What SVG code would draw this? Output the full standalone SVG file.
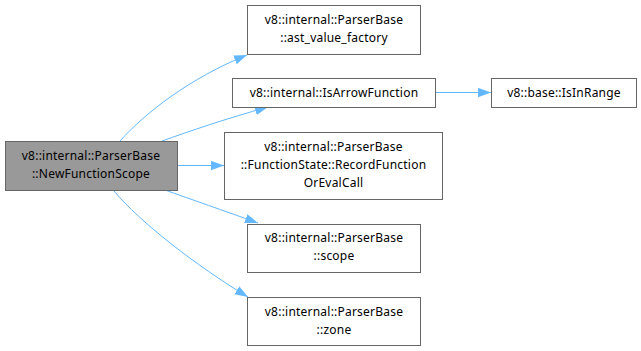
<svg xmlns="http://www.w3.org/2000/svg" width="641" height="351" viewBox="0 0 641 351">
  <style>
    .node rect { fill: #ffffff; stroke: #666666; stroke-width: 1; }
    .node.root rect { fill: #999999; }
    .node text { font-family: "Noto Sans", "Open Sans", sans-serif; font-size: 12px; letter-spacing: 0.22px; fill: #000000; text-anchor: middle; }
    .edges path { fill: none; stroke: #63b8ff; stroke-width: 1; marker-end: url(#arrow); }
  </style>
  <defs>
    <marker id="arrow" markerUnits="userSpaceOnUse" markerWidth="14" markerHeight="10" refX="13" refY="4.7" orient="auto">
      <path d="M0,0 L13,4.7 L0,9.4 z" fill="#63b8ff"/>
    </marker>
  </defs>
  <rect width="641" height="351" fill="#ffffff"/>

  <g class="edges">
    <path d="M120,141 C145,113 190,78 247,55"/>
    <path d="M162,141 C190,131 225,119 268,107"/>
    <path d="M177,165.5 L224,165.5"/>
    <path d="M165,190 C190,199 225,211 258,223"/>
    <path d="M114,191 C140,222 195,265 248,297"/>
    <path d="M435,92.5 L491,92.5"/>
  </g>

  <g id="node-newfunctionscope" class="node root">
    <rect x="5.5" y="141.5" width="172" height="49"/>
    <text x="91" y="160">v8::internal::ParserBase</text>
    <text x="91" y="178">::NewFunctionScope</text>
  </g>
  <g id="node-ast-value-factory" class="node">
    <rect x="247.5" y="5.5" width="173" height="49"/>
    <text x="334" y="24">v8::internal::ParserBase</text>
    <text x="334" y="42">::ast_value_factory</text>
  </g>
  <g id="node-isarrowfunction" class="node">
    <rect x="232.5" y="78.5" width="203" height="29"/>
    <text x="334" y="97">v8::internal::IsArrowFunction</text>
  </g>
  <g id="node-recordfunctionorevalcall" class="node">
    <rect x="224.5" y="132.5" width="218" height="67"/>
    <text x="333.5" y="151">v8::internal::ParserBase</text>
    <text x="333.5" y="169">::FunctionState::RecordFunction</text>
    <text x="333.5" y="187">OrEvalCall</text>
  </g>
  <g id="node-scope" class="node">
    <rect x="247.5" y="224.5" width="173" height="48"/>
    <text x="334" y="242">v8::internal::ParserBase</text>
    <text x="334" y="260">::scope</text>
  </g>
  <g id="node-zone" class="node">
    <rect x="247.5" y="297.5" width="173" height="48"/>
    <text x="334" y="316">v8::internal::ParserBase</text>
    <text x="334" y="334">::zone</text>
  </g>
  <g id="node-isinrange" class="node">
    <rect x="491.5" y="78.5" width="145" height="29"/>
    <text x="564" y="97">v8::base::IsInRange</text>
  </g>
</svg>
